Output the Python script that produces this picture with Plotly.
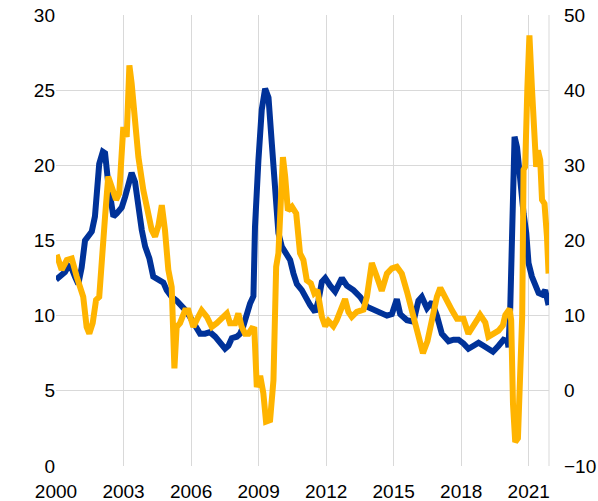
import plotly.graph_objects as go

# Blue series (left axis), x in decimal years
blue_year = [2000.00, 2000.18, 2000.40, 2000.55, 2000.71, 2000.84, 2000.99, 2001.14, 2001.29, 2001.44,
             2001.59, 2001.73, 2001.81, 2001.92, 2002.08, 2002.18, 2002.32, 2002.55, 2002.70, 2002.92,
             2003.07, 2003.21, 2003.36, 2003.51, 2003.66, 2003.81, 2003.96, 2004.15, 2004.32, 2004.55,
             2004.77, 2004.92, 2005.14, 2005.36, 2005.59, 2005.73, 2005.96, 2006.18, 2006.40, 2006.62,
             2006.84, 2007.07, 2007.29, 2007.51, 2007.66, 2007.81, 2008.03, 2008.18, 2008.32, 2008.48,
             2008.62, 2008.77, 2008.84, 2008.99, 2009.14, 2009.29, 2009.44, 2009.59, 2009.73, 2009.88,
             2010.03, 2010.25, 2010.40, 2010.55, 2010.70, 2010.92, 2011.07, 2011.29, 2011.51, 2011.66,
             2011.81, 2011.96, 2012.18, 2012.40, 2012.70, 2012.92, 2013.21, 2013.51, 2013.81, 2014.10,
             2014.40, 2014.70, 2014.92, 2015.14, 2015.29, 2015.59, 2015.88, 2016.10, 2016.25, 2016.48,
             2016.70, 2016.92, 2017.14, 2017.44, 2017.66, 2017.88, 2018.10, 2018.32, 2018.55, 2018.77,
             2018.99, 2019.21, 2019.41, 2019.66, 2019.88, 2020.06, 2020.10, 2020.18, 2020.30, 2020.37,
             2020.48, 2020.62, 2020.77, 2020.89, 2020.99, 2021.14, 2021.29, 2021.44, 2021.59, 2021.73,
             2021.88]
blue_value = [12.4, 12.6, 12.9, 13.3, 13.1, 12.6, 12.1, 13.2, 15.0, 15.3,
              15.6, 16.6, 18.3, 20.1, 20.9, 20.8, 18.8, 16.6, 16.8, 17.2,
              17.9, 18.8, 19.5, 18.9, 17.2, 15.7, 14.6, 13.8, 12.6, 12.4,
              12.2, 11.7, 11.25, 11.0, 10.7, 10.4, 9.9, 9.3, 8.8, 8.8,
              8.9, 8.6, 8.15, 7.8, 8.0, 8.5, 8.6, 8.8, 9.3, 10.3,
              10.8, 11.3, 15.9, 20.3, 23.7, 25.1, 24.5, 21.4, 18.1, 15.5,
              14.6, 14.1, 13.7, 12.8, 12.1, 11.7, 11.25, 10.7, 10.25, 11.0,
              12.25, 12.5, 12.0, 11.6, 12.5, 12.0, 11.7, 11.25, 10.6, 10.4,
              10.25, 10.0, 10.1, 11.1, 10.1, 9.7, 9.6, 11.0, 11.25, 10.5,
              10.9, 10.0, 8.8, 8.3, 8.4, 8.4, 8.15, 7.8, 8.0, 8.2,
              8.0, 7.8, 7.6, 8.0, 8.4, 8.3, 7.9, 10.6, 18.6, 21.9,
              21.2, 18.6, 16.8, 15.5, 13.5, 12.6, 12.1, 11.5, 11.4, 11.7,
              10.7]

# Yellow series (right axis)
yellow_year = [2000.03, 2000.25, 2000.48, 2000.70, 2000.92, 2001.07, 2001.21, 2001.36, 2001.48, 2001.63,
               2001.78, 2001.92, 2002.03, 2002.18, 2002.32, 2002.48, 2002.67, 2002.81, 2002.92, 2002.99,
               2003.14, 2003.26, 2003.36, 2003.51, 2003.66, 2003.88, 2004.10, 2004.25, 2004.40, 2004.55,
               2004.70, 2004.84, 2004.99, 2005.14, 2005.26, 2005.36, 2005.51, 2005.73, 2005.88, 2006.10,
               2006.32, 2006.47, 2006.70, 2006.92, 2007.14, 2007.36, 2007.59, 2007.73, 2007.96, 2008.10,
               2008.25, 2008.40, 2008.55, 2008.70, 2008.81, 2008.92, 2009.07, 2009.21, 2009.33, 2009.51,
               2009.66, 2009.78, 2009.88, 2009.99, 2010.08, 2010.18, 2010.30, 2010.48, 2010.67, 2010.84,
               2010.99, 2011.14, 2011.32, 2011.47, 2011.61, 2011.81, 2011.96, 2012.10, 2012.32, 2012.47,
               2012.70, 2012.84, 2012.99, 2013.14, 2013.36, 2013.66, 2013.81, 2014.03, 2014.25, 2014.47,
               2014.70, 2014.92, 2015.14, 2015.36, 2015.59, 2015.88, 2016.10, 2016.30, 2016.50, 2016.70,
               2016.92, 2017.07, 2017.21, 2017.36, 2017.59, 2017.81, 2018.10, 2018.32, 2018.48, 2018.70,
               2018.84, 2019.07, 2019.21, 2019.43, 2019.66, 2019.85, 2019.96, 2020.15, 2020.22, 2020.30,
               2020.40, 2020.52, 2020.62, 2020.71, 2020.77, 2020.84, 2020.94, 2021.03, 2021.14, 2021.24,
               2021.33, 2021.41, 2021.51, 2021.59, 2021.70, 2021.81, 2021.88]
yellow_value = [18.1, 16.1, 17.4, 17.6, 15.2, 13.4, 12.5, 8.5, 7.6, 9.0,
                12.1, 12.5, 17.8, 23.2, 28.5, 27.1, 25.4, 26.3, 32.0, 35.1,
                33.8, 43.3, 40.9, 34.7, 31.1, 26.7, 23.0, 21.4, 20.5, 22.0,
                24.7, 21.4, 16.1, 13.8, 3.0, 8.5, 9.0, 10.7, 10.7, 8.5,
                9.85, 10.7, 9.85, 8.5, 9.0, 9.6, 10.3, 9.0, 9.0, 10.3,
                8.5, 7.6, 7.6, 8.3, 8.2, 0.5, 2.0, -0.3, -4.1, -3.9,
                1.4, 16.5, 18.3, 25.4, 31.1, 28.5, 24.0, 24.5, 23.6, 18.3,
                17.4, 14.7, 14.3, 13.0, 13.4, 9.85, 8.6, 9.3, 8.6, 9.4,
                11.0, 12.2, 10.5, 9.85, 10.5, 10.8, 12.5, 17.0, 15.2, 13.3,
                15.6, 16.3, 16.5, 15.6, 13.2, 10.0, 7.0, 5.0, 6.6, 9.6,
                12.5, 13.7, 12.8, 12.2, 10.7, 9.6, 9.6, 7.6, 8.5, 9.4,
                10.1, 9.1, 7.2, 7.5, 8.0, 8.7, 10.1, 10.9, 9.4, -1.7,
                -6.8, -6.3, 1.0, 10.0, 29.4, 29.8, 40.4, 47.3, 40.4, 32.5,
                29.8, 32.0, 30.7, 25.4, 24.9, 20.5, 15.6]

x_ticks = [2000, 2003, 2006, 2009, 2012, 2015, 2018, 2021]
left_ticks = [0, 5, 10, 15, 20, 25, 30]
right_ticks = [-10, 0, 10, 20, 30, 40, 50]

BLUE = "#003299"
YELLOW = "#FFB400"
GRID = "#d9d9d9"
FONT = dict(family="Liberation Sans, Arial, sans-serif", size=19, color="#000000")

fig = go.Figure()
fig.add_trace(go.Scatter(x=blue_year, y=blue_value, mode="lines",
                         line=dict(color=BLUE, width=6), yaxis="y", showlegend=False))
fig.add_trace(go.Scatter(x=yellow_year, y=yellow_value, mode="lines",
                         line=dict(color=YELLOW, width=6), yaxis="y2", showlegend=False))

fig.update_layout(
    width=598, height=501,
    margin=dict(l=56, r=49, t=15, b=35, autoexpand=False),
    paper_bgcolor="white", plot_bgcolor="white",
    font=FONT,
    xaxis=dict(range=[2000, 2021.9], tickvals=x_ticks, ticktext=[str(t) for t in x_ticks],
               showgrid=True, gridcolor=GRID, gridwidth=1, zeroline=False, showline=False,
               ticks="", ticklabelstandoff=12, automargin=False),
    yaxis=dict(range=[0, 30], tickvals=left_ticks, showgrid=True, gridcolor=GRID, gridwidth=1,
               zeroline=False, showline=False, ticks="", ticklabelstandoff=0, automargin=False),
    yaxis2=dict(range=[-10, 50], tickvals=right_ticks, overlaying="y", side="right",
                showgrid=False, zeroline=False, showline=False, ticks="", ticklabelstandoff=14,
                automargin=False),
)
fig.add_shape(type="line", xref="paper", yref="paper", x0=1, x1=1, y0=0, y1=1,
              line=dict(color=GRID, width=1), layer="below")

fig.write_html("out.html",
               config={"displayModeBar": False},
               post_script="document.body.style.margin='0';document.body.style.overflow='hidden';")
